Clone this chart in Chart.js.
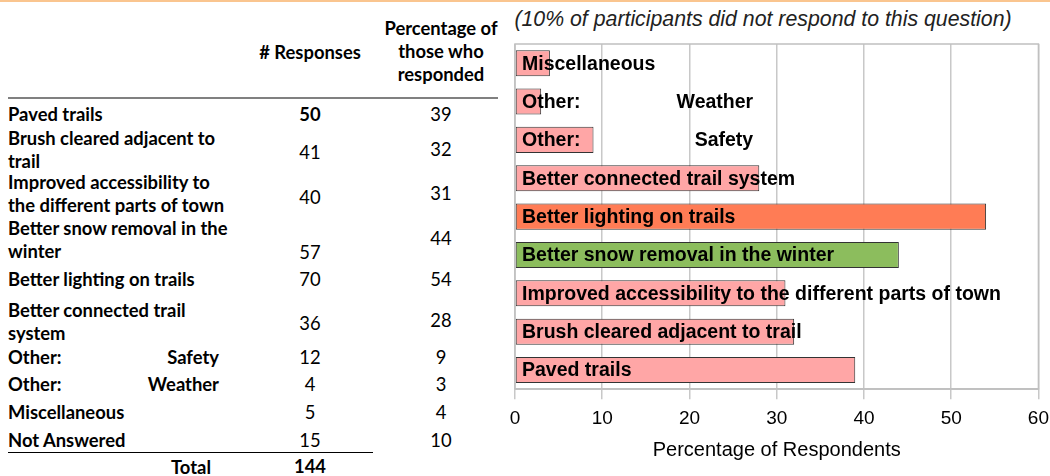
<!DOCTYPE html>
<html>
<head>
<meta charset="utf-8">
<script src="https://cdn.jsdelivr.net/npm/chart.js@4.4.0/dist/chart.umd.min.js"></script>
<style>
  body { margin: 0; background: #fff; width: 1050px; height: 476px; overflow: hidden; position: relative; }
  #topline { position: absolute; left: 0; top: 0; width: 1050px; height: 2px; background: #fac58f; }
  .t { position: absolute; font-family: Lato, sans-serif; font-size: 18.4px; color: #000; white-space: nowrap; line-height: 22px; transform: translateY(-50%); }
  .b { font-weight: bold; }
  .c { transform: translate(-50%, -50%); text-align: center; }
  .r { transform: translate(-100%, -50%); }
  #note { position: absolute; left: 513px; top: 7px; width: 500px; text-align: center; font: italic 21.3px "Liberation Sans", Arial, sans-serif; color: #222; white-space: nowrap; }
  #wrap { position: absolute; left: 470px; top: 0; width: 587px; height: 476px; }
</style>
</head>
<body>
<div id="topline"></div>
<div id="table"></div>
<div id="note">(10% of participants did not respond to this question)</div>
<div id="wrap"><canvas id="chart"></canvas></div>
<script>
const categories = ['Paved trails', 'Brush cleared adjacent to trail', 'Improved accessibility to the different parts of town',
  'Better snow removal in the winter', 'Better lighting on trails', 'Better connected trail system',
  'Other: Safety', 'Other: Weather', 'Miscellaneous', 'Not Answered']
const tableLines = [['Paved trails'], ['Brush cleared adjacent to', 'trail'], ['Improved accessibility to', 'the different parts of town'],
  ['Better snow removal in the', 'winter'], ['Better lighting on trails'], ['Better connected trail', 'system'],
  ['Other:', 'Safety'], ['Other:', 'Weather'], ['Miscellaneous'], ['Not Answered']]
const responses = [50, 41, 40, 57, 70, 36, 12, 4, 5, 15]
const percentages = [39, 32, 31, 44, 54, 28, 9, 3, 4, 10]
const totalResponses = 144
const xTicks = [0, 10, 20, 30, 40, 50, 60]

// layout of the table (y centres)
const labelY = [114, 138, 182, 228, 279, 310, 357, 384, 412, 440]
const respY = [114, 152, 197, 252, 279, 323, 357, 384, 412, 440]
const pctY = [114, 149, 193, 238, 279, 320, 357, 384, 412, 440]

function addText(txt, x, y, cls) {
  const d = document.createElement('div')
  d.className = 't ' + cls
  d.textContent = txt
  d.style.left = x + 'px'
  d.style.top = y + 'px'
  document.getElementById('table').appendChild(d)
}
function addLine(x, y, w, h, color) {
  const d = document.createElement('div')
  d.style.cssText = `position:absolute;left:${x}px;top:${y}px;width:${w}px;height:${h}px;background:${color}`
  document.body.appendChild(d)
}

addText('# Responses', 310, 52, 'b c')
addText('Percentage of', 441, 28, 'b c')
addText('those who', 441, 51, 'b c')
addText('responded', 441, 74, 'b c')
addLine(8, 97, 490, 2, '#808080')

tableLines.forEach((lines, i) => {
  if (lines[0] == 'Other:') {
    addText(lines[0], 8, labelY[i], 'b')
    addText(lines[1], 219, labelY[i], 'b r')
  } else {
    lines.forEach((l, j) => addText(l, 8, labelY[i] + j * 23, 'b'))
  }
  addText(responses[i], 310, respY[i], i == 0 ? 'b c' : 'c')
  addText(percentages[i], 441, pctY[i], 'c')
})
addLine(8, 452, 365, 1, '#000')
addText('Total', 211, 467, 'b r')
addText(totalResponses, 310, 466, 'b c')

// chart: everything except "Not Answered", drawn top = Miscellaneous
const chartCats = categories.slice(0, 9).reverse()
const chartVals = percentages.slice(0, 9).reverse()
const barColors = chartCats.map(c => c == 'Better lighting on trails' ? '#ff7c55' :
  c == 'Better snow removal in the winter' ? '#8cbd5d' : '#ffa6a6')

const frameAndLabels = {
  id: 'frameAndLabels',
  afterDatasetsDraw(chart) {
    const { ctx, chartArea: a, scales } = chart
    ctx.save()
    ctx.strokeStyle = '#c0c0c0'
    ctx.lineWidth = 1.5
    ctx.strokeRect(a.left, a.top, a.right - a.left, a.bottom - a.top)
    ctx.font = 'bold 19.5px "Liberation Sans", Arial, sans-serif'
    ctx.fillStyle = '#000'
    ctx.textBaseline = 'middle'
    chartCats.forEach((c, i) => {
      const y = scales.y.getPixelForValue(i) + 1
      const x = a.left + 7
      if (c.startsWith('Other:')) {
        ctx.textAlign = 'left'
        ctx.fillText('Other:', x, y)
        ctx.textAlign = 'right'
        ctx.fillText(c.slice(7), scales.x.getPixelForValue(27.3), y)
      } else {
        ctx.textAlign = 'left'
        ctx.fillText(c, x, y)
      }
    })
    ctx.restore()
  }
}

new Chart(document.getElementById('chart'), {
  type: 'bar',
  data: {
    labels: chartCats,
    datasets: [{
      data: chartVals,
      backgroundColor: barColors,
      borderColor: '#333',
      borderWidth: 1,
      borderSkipped: false,
      barPercentage: 0.68,
      categoryPercentage: 1
    }]
  },
  options: {
    indexAxis: 'y',
    responsive: true,
    maintainAspectRatio: false,
    animation: false,
    layout: { padding: { left: 45, right: 4, top: 44, bottom: 10 } },
    plugins: { legend: { display: false }, tooltip: { enabled: false } },
    scales: {
      y: { display: false },
      x: {
        min: 0, max: 60,
        afterBuildTicks: s => { s.ticks = xTicks.map(v => ({ value: v })) },
        grid: { color: '#c8c8c8', lineWidth: 1.5, tickLength: 10 },
        border: { color: '#c0c0c0', width: 1.5 },
        ticks: { color: '#000', padding: 8, font: { family: '"Liberation Sans", Arial', size: 19 } },
        title: { display: true, text: 'Percentage of Respondents', color: '#000', padding: { top: 0 }, font: { family: '"Liberation Sans", Arial', size: 20 } }
      }
    }
  },
  plugins: [frameAndLabels]
})
</script>
</body>
</html>
